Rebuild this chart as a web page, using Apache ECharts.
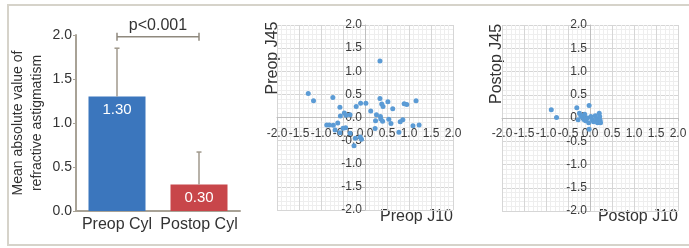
<!DOCTYPE html>
<html>
<head>
<meta charset="utf-8">
<script src="https://cdn.jsdelivr.net/npm/echarts@6/dist/echarts.min.js"></script>
<style>
  html, body { margin: 0; padding: 0; background: #fff; }
  #frame {
    position: absolute; left: 7px; top: 4px; width: 700px; height: 238px;
    border: 2px solid #d6d3ca; border-right: none;
  }
  #chart { position: absolute; left: 0; top: 0; width: 689px; height: 248px; }
</style>
</head>
<body>
<div id="frame"></div>
<div id="chart"></div>
<script>
// bar panel data
const cylCategories = ['Preop Cyl', 'Postop Cyl'];
const cylMeans = [1.30, 0.30];
const cylErrTops = [1.85, 0.67];
const cylColors = ['#3b76bd', '#c8464a'];
const pText = 'p<0.001';
const bracketLevel = 1.98;

// J10 / J45 vector points
const preopPoints = [
  [-1.29, 0.52], [-1.17, 0.36], [-0.73, 0.43], [-0.57, 0.22], [-0.47, 0.10],
  [-0.56, 0.03], [-0.43, 0.05], [-0.34, 0.06], [-0.20, 0.24], [-0.10, 0.31],
  [0.02, 0.31], [0.34, 1.22], [0.34, 0.41], [0.38, 0.29], [0.41, 0.24],
  [0.52, 0.34], [0.63, 0.19], [0.13, 0.14], [0.26, 0.06], [0.35, 0.02],
  [0.36, -0.03], [0.24, -0.07], [0.40, -0.08], [0.54, -0.04], [0.59, -0.13],
  [0.89, 0.30], [0.95, 0.28], [1.16, 0.36], [0.86, -0.05], [0.80, -0.09],
  [1.09, -0.18], [1.23, -0.16], [0.77, -0.32], [0.23, -0.24], [-0.08, -0.47],
  [-0.11, -0.42], [-0.25, -0.61], [-0.22, -0.45], [-0.87, -0.16], [-0.81, -0.16],
  [-0.72, -0.17], [-0.68, -0.27], [-0.57, -0.33], [-0.50, -0.23], [-0.44, -0.22],
  [-0.34, -0.34], [-0.62, -0.12],
];
const postopPoints = [
  [-0.88, 0.18], [-0.76, 0.01], [-0.30, 0.22], [-0.02, 0.27], [-0.24, 0.10],
  [-0.21, 0.05], [-0.17, 0.02], [-0.14, -0.03], [-0.10, -0.06], [-0.06, 0.00],
  [-0.03, -0.10], [-0.02, -0.24], [0.02, 0.03], [0.05, -0.03], [0.08, -0.08],
  [0.12, 0.05], [0.15, -0.02], [0.17, -0.10], [0.21, 0.10], [0.22, 0.03],
  [0.23, -0.05], [0.24, -0.10], [-0.12, 0.08], [-0.27, -0.04],
];
const scatterNames = [['Preop J10', 'Preop J45'], ['Postop J10', 'Postop J45']];

const textColor = '#333';
const axisGray = '#a8a296';
const grids = [
  { left: 76, top: 35, width: 164, height: 176, outerBoundsMode: 'none' },
  { left: 277, top: 25, width: 176, height: 185, outerBoundsMode: 'none' },
  { left: 502, top: 25, width: 176, height: 186, outerBoundsMode: 'none' },
];

function scatterAxis(type, gridIndex) {
  const g = grids[gridIndex];
  return {
    type: 'value',
    gridIndex,
    min: -2,
    max: 2,
    interval: 0.5,
    // both axes cross at 0, which is the middle of the symmetric range
    offset: type === 'x' ? -g.height / 2 : -g.width / 2,
    axisLine: { show: true, onZero: false, lineStyle: { color: '#bfbfbf', width: 1 } },
    axisTick: { show: true, length: 3, lineStyle: { color: '#bfbfbf' } },
    axisLabel: {
      margin: type === 'x' ? 10 : 3,
      fontSize: 12,
      fontFamily: '"Liberation Sans Narrow", "Liberation Sans", Arial',
      color: '#3a3a3a',
      formatter: (v) => v.toFixed(1),
    },
    splitLine: { show: true, lineStyle: { color: '#d6d6d6', width: 1 } },
    minorTick: { show: true, splitNumber: 5, length: 0 },
    minorSplitLine: { show: true, lineStyle: { color: '#eeeeee', width: 1 } },
  };
}

// axis titles of the scatter panels
const nameGraphics = [];
[grids[1], grids[2]].forEach((g, i) => {
  nameGraphics.push({
    type: 'text',
    x: g.left - (i === 0 ? 4 : 5),
    y: g.top + (i === 0 ? 33 : 39),
    rotation: Math.PI / 2,
    style: {
      text: scatterNames[i][1], fill: textColor, fontSize: 16,
      fontFamily: '"Liberation Sans", Arial', textAlign: 'center', textVerticalAlign: 'middle',
    },
  });
  nameGraphics.push({
    type: 'text',
    x: g.left + g.width,
    y: 217,
    style: {
      text: scatterNames[i][0], fill: textColor, fontSize: 16,
      fontFamily: '"Liberation Sans", Arial', textAlign: 'right', textVerticalAlign: 'middle',
    },
  });
});

const option = {
  animation: false,
  textStyle: { fontFamily: '"Liberation Sans", Arial', color: textColor },
  grid: grids,
  graphic: nameGraphics,
  xAxis: [
    {
      type: 'category',
      gridIndex: 0,
      data: cylCategories,
      axisLine: { show: true, lineStyle: { color: axisGray, width: 2 } },
      axisTick: { show: false },
      axisLabel: { fontSize: 16, color: textColor, margin: 6, interval: 0 },
    },
    scatterAxis('x', 1),
    scatterAxis('x', 2),
  ],
  yAxis: [
    {
      type: 'value',
      gridIndex: 0,
      min: 0,
      max: 2,
      interval: 0.5,
      name: 'Mean absolute value of\nrefractive astigmatism',
      nameLocation: 'middle',
      nameRotate: 90,
      nameGap: 29,
      nameTextStyle: { fontSize: 14, color: textColor, lineHeight: 19 },
      axisLine: { show: true, lineStyle: { color: axisGray, width: 2 } },
      axisTick: { show: true, length: 3, lineStyle: { color: axisGray } },
      axisLabel: { fontSize: 14, color: textColor, margin: 4, formatter: (v) => v.toFixed(1) },
      splitLine: { show: false },
    },
    scatterAxis('y', 1),
    scatterAxis('y', 2),
  ],
  series: [
    {
      type: 'bar',
      xAxisIndex: 0,
      yAxisIndex: 0,
      barWidth: 57,
      data: cylMeans.map((v, i) => ({ value: v, itemStyle: { color: cylColors[i] } })),
      label: {
        show: true,
        position: 'insideTop',
        distance: 6,
        color: '#fff',
        fontSize: 15,
        formatter: (p) => p.value.toFixed(2),
      },
      z: 2,
    },
    {
      type: 'custom',
      xAxisIndex: 0,
      yAxisIndex: 0,
      clip: false,
      data: cylMeans.map((v, i) => [i, v, cylErrTops[i]]),
      renderItem(params, api) {
        const base = api.coord([api.value(0), api.value(1)]);
        const top = api.coord([api.value(0), api.value(2)]);
        const st = { stroke: '#a0998c', lineWidth: 1.5 };
        return {
          type: 'group',
          children: [
            { type: 'line', shape: { x1: base[0], y1: base[1], x2: top[0], y2: top[1] }, style: st },
            { type: 'line', shape: { x1: top[0] - 2.5, y1: top[1], x2: top[0] + 2.5, y2: top[1] }, style: st },
          ],
        };
      },
      z: 3,
    },
    {
      type: 'custom',
      xAxisIndex: 0,
      yAxisIndex: 0,
      clip: false,
      data: [[0, 1, bracketLevel]],
      renderItem(params, api) {
        const a = api.coord([api.value(0), api.value(2)]);
        const b = api.coord([api.value(1), api.value(2)]);
        const st = { stroke: '#8f897e', lineWidth: 1.5 };
        return {
          type: 'group',
          children: [
            { type: 'line', shape: { x1: a[0], y1: a[1], x2: b[0], y2: b[1] }, style: st },
            { type: 'line', shape: { x1: a[0], y1: a[1] - 4, x2: a[0], y2: a[1] + 4 }, style: st },
            { type: 'line', shape: { x1: b[0], y1: b[1] - 4, x2: b[0], y2: b[1] + 4 }, style: st },
            {
              type: 'text',
              style: {
                text: pText, x: (a[0] + b[0]) / 2, y: a[1] - 11, fill: textColor,
                fontSize: 16, fontFamily: '"Liberation Sans", Arial',
                textAlign: 'center', textVerticalAlign: 'middle',
              },
            },
          ],
        };
      },
      z: 3,
    },
    {
      type: 'scatter',
      xAxisIndex: 1,
      yAxisIndex: 1,
      symbolSize: 5,
      itemStyle: { color: '#5b9bd5', opacity: 1 },
      data: preopPoints,
    },
    {
      type: 'scatter',
      xAxisIndex: 2,
      yAxisIndex: 2,
      symbolSize: 5,
      itemStyle: { color: '#5b9bd5', opacity: 1 },
      data: postopPoints,
    },
  ],
};

const myChart = echarts.init(document.getElementById('chart'));
myChart.setOption(option);
</script>
</body>
</html>
